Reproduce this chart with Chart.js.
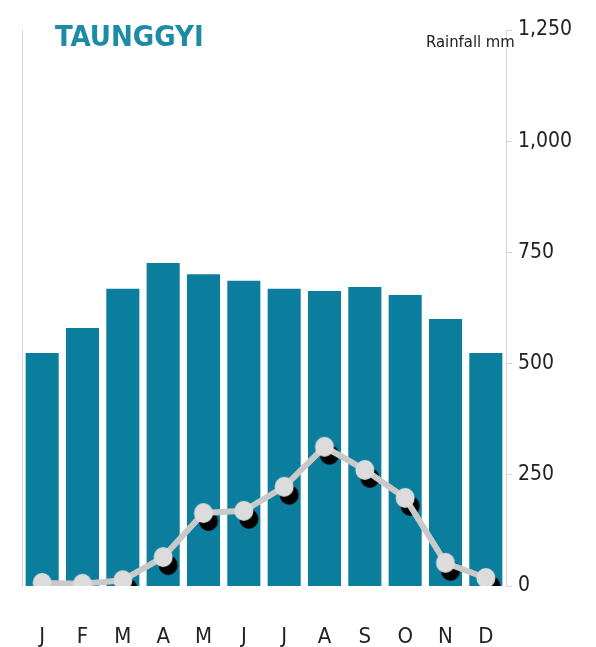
<!DOCTYPE html>
<html>
<head>
<meta charset="utf-8">
<script src="https://cdn.jsdelivr.net/npm/chart.js@4"></script>
<style>
  html, body { margin: 0; padding: 0; background: #fff; }
  #wrap { position: relative; width: 596px; height: 647px; }
  #title {
    position: absolute; left: 55px; top: 19px;
    font-family: "DejaVu Sans Condensed", "Liberation Sans Narrow", sans-serif;
    font-weight: bold; font-size: 29px; color: #1a8ca6;
  }
  #unit {
    position: absolute; left: 426px; top: 32px;
    font-family: "DejaVu Sans Condensed", "Liberation Sans Narrow", sans-serif;
    font-size: 16.5px; color: #222;
  }
</style>
</head>
<body>
<div id="wrap">
  <canvas id="climateChart" width="596" height="647"></canvas>
  <div id="title">TAUNGGYI</div>
  <div id="unit">Rainfall mm</div>
</div>
<script>
// Data
const months = ['J', 'F', 'M', 'A', 'M', 'J', 'J', 'A', 'S', 'O', 'N', 'D'];
const barValues = [524, 580, 668, 726, 701, 686, 668, 663, 672, 654, 600, 524];
const rainfall = [7, 5, 13, 65, 164, 169, 223, 313, 261, 198, 52, 18];
const yTicks = [0, 250, 500, 750, 1000, 1250];

const FONT = '"DejaVu Sans Condensed", "Liberation Sans Narrow", sans-serif';

// Point images: grey dot, and its black drop shadow
function makeDot(color, dx, dy) {
    const c = document.createElement('canvas');
    c.width = 44;
    c.height = 44;
    const g = c.getContext('2d');
    g.fillStyle = color;
    g.beginPath();
    g.ellipse(22 + dx, 22 + dy, 9.5, 10, 0, 0, Math.PI * 2);
    g.fill();
    return c;
}
const dotImg = makeDot('#dcdcdc', 0, 0);
const shadowImg = makeDot('#000', 5, 8);

document.addEventListener('DOMContentLoaded', () => {
    const ctx = document.getElementById('climateChart').getContext('2d');
    new Chart(ctx, {
        data: {
            labels: months,
            datasets: [
                {
                    type: 'line',
                    data: rainfall,
                    showLine: false,
                    pointStyle: shadowImg,
                    pointRadius: 10,
                    order: 3
                },
                {
                    type: 'line',
                    data: rainfall,
                    borderColor: '#c9c9c9',
                    borderWidth: 6,
                    tension: 0,
                    pointRadius: 0,
                    order: 2
                },
                {
                    type: 'line',
                    data: rainfall,
                    showLine: false,
                    pointStyle: dotImg,
                    pointRadius: 10,
                    order: 1
                },
                {
                    type: 'bar',
                    data: barValues,
                    backgroundColor: '#0b7e9e',
                    categoryPercentage: 1,
                    barPercentage: 0.82,
                    order: 4
                }
            ]
        },
        options: {
            responsive: false,
            animation: false,
            layout: { padding: { top: 30, bottom: 0, left: 22, right: 0 } },
            plugins: { legend: { display: false }, tooltip: { enabled: false } },
            scales: {
                x: {
                    grid: { display: false, drawTicks: false },
                    border: { display: false },
                    afterFit: axis => { axis.height = 61; },
                    ticks: {
                        color: '#222',
                        padding: 38,
                        font: { family: FONT, size: 22 }
                    }
                },
                yL: {
                    position: 'left',
                    min: 0,
                    max: 1250,
                    afterFit: axis => { axis.width = 0; },
                    grid: { display: false },
                    border: { display: true, color: '#d6d6d6', width: 1 },
                    ticks: { display: false }
                },
                y: {
                    position: 'right',
                    min: 0,
                    max: 1250,
                    afterBuildTicks: axis => { axis.ticks = yTicks.map(v => ({ value: v })); },
                    afterFit: axis => { axis.width = 90; },
                    grid: {
                        drawOnChartArea: false,
                        drawTicks: true,
                        tickLength: 6,
                        color: '#d6d6d6'
                    },
                    border: { display: true, color: '#d6d6d6', width: 1 },
                    ticks: {
                        color: '#222',
                        padding: 6,
                        font: { family: FONT, size: 21 },
                        callback: v => v.toLocaleString('en-US')
                    }
                }
            }
        }
    });
});
</script>
</body>
</html>
